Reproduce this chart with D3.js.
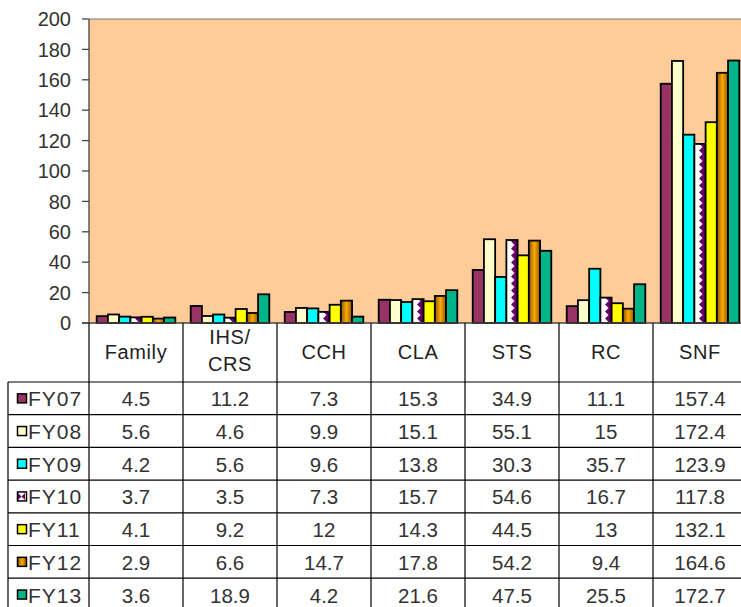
<!DOCTYPE html>
<html><head><meta charset="utf-8">
<script src="https://cdnjs.cloudflare.com/ajax/libs/d3/7.8.5/d3.min.js"></script>
<style>
html,body{margin:0;padding:0;background:#fff;}
svg text{font-family:"Liberation Sans",Arial,sans-serif;}
</style></head>
<body><svg id="c" width="741" height="607"></svg>
<script>
const categories = ["Family","IHS/CRS","CCH","CLA","STS","RC","SNF"];
const categoryLines = [["Family"],["IHS/","CRS"],["CCH"],["CLA"],["STS"],["RC"],["SNF"]];
const seriesNames = ["FY07","FY08","FY09","FY10","FY11","FY12","FY13"];
const fy07 = [4.5, 11.2, 7.3, 15.3, 34.9, 11.1, 157.4];
const fy08 = [5.6, 4.6, 9.9, 15.1, 55.1, 15, 172.4];
const fy09 = [4.2, 5.6, 9.6, 13.8, 30.3, 35.7, 123.9];
const fy10 = [3.7, 3.5, 7.3, 15.7, 54.6, 16.7, 117.8];
const fy11 = [4.1, 9.2, 12, 14.3, 44.5, 13, 132.1];
const fy12 = [2.9, 6.6, 14.7, 17.8, 54.2, 9.4, 164.6];
const fy13 = [3.6, 18.9, 4.2, 21.6, 47.5, 25.5, 172.7];
const seriesValues = [fy07, fy08, fy09, fy10, fy11, fy12, fy13];
const yTicks = [0,20,40,60,80,100,120,140,160,180,200];

const svg = d3.select("#c");
const defs = svg.append("defs");
const plotLeft = 89, plotTop = 19, plotBottom = 323, catW = 94;
const plotRight = plotLeft + catW * categories.length;

const x = d3.scaleBand().domain(categories).range([plotLeft, plotRight]).padding(0);
const xs = d3.scaleBand().domain(seriesNames).range([7.7, catW - 7.7]).padding(0);
const y = d3.scaleLinear().domain([0, 200]).range([plotBottom, plotTop]);

const g = defs.append("linearGradient").attr("id","gFY12").attr("x1","0").attr("x2","1").attr("y1","0").attr("y2","0");
g.append("stop").attr("offset","0%").attr("stop-color","#8a5800");
g.append("stop").attr("offset","50%").attr("stop-color","#ffa800");
g.append("stop").attr("offset","100%").attr("stop-color","#8a5800");

function fy10Pattern(id, x0) {
  const w = xs.bandwidth();
  const p = defs.append("pattern").attr("id", id).attr("patternUnits","userSpaceOnUse")
    .attr("x", x0).attr("y", 0).attr("width", w).attr("height", 7);
  p.append("rect").attr("width", w).attr("height", 7).attr("fill","#fff");
  p.append("polygon").attr("points", `${w*0.42},3.5 ${w*0.72},0 ${w},0 ${w},7 ${w*0.72},7`).attr("fill","#660066");
}

const colors = ["#993366","#ffffcc","#00ffff",null,"#ffff00","url(#gFY12)","#00b388"];

svg.append("rect").attr("x", plotLeft).attr("y", plotTop).attr("width", plotRight - plotLeft).attr("height", plotBottom - plotTop).attr("fill", "#ffcc99");

seriesNames.forEach((s, si) => {
  const grp = svg.append("g");
  categories.forEach((c, ci) => {
    const v = seriesValues[si][ci];
    const bx = x(c) + xs(s);
    let fill = colors[si];
    if (si === 3) { const id = "p10_" + ci; fy10Pattern(id, bx); fill = `url(#${id})`; }
    grp.append("rect").attr("x", bx).attr("y", y(v)).attr("width", xs.bandwidth()).attr("height", y(0) - y(v))
      .attr("fill", fill).attr("stroke", "#000").attr("stroke-width", 1.8);
  });
});

svg.append("line").attr("x1", plotLeft).attr("x2", plotLeft).attr("y1", plotTop).attr("y2", plotBottom).attr("stroke", "#444").attr("stroke-width", 1.3);
svg.append("line").attr("x1", plotLeft).attr("x2", plotRight).attr("y1", plotTop).attr("y2", plotTop).attr("stroke", "#777").attr("stroke-width", 1);
yTicks.forEach(t => {
  svg.append("line").attr("x1", plotLeft - 7).attr("x2", plotLeft).attr("y1", y(t)).attr("y2", y(t)).attr("stroke", "#444").attr("stroke-width", 1.3);
  svg.append("text").attr("x", 71).attr("y", y(t)).attr("dy", "0.36em").attr("text-anchor", "end")
    .attr("font-size", 20).attr("fill", "#333").text(t);
});
svg.append("line").attr("x1", plotLeft - 7).attr("x2", plotRight).attr("y1", plotBottom).attr("y2", plotBottom).attr("stroke", "#444").attr("stroke-width", 1.3);

const headerBottom = 382, rowH = 32.7, legendLeft = 8;
const rowTop = i => headerBottom + i * rowH;
const tbl = svg.append("g");
for (let i = 0; i <= seriesNames.length; i++) {
  tbl.append("line").attr("x1", legendLeft).attr("x2", plotRight).attr("y1", rowTop(i)).attr("y2", rowTop(i)).attr("stroke", "#000").attr("stroke-width", 1.2);
}
tbl.append("line").attr("x1", legendLeft).attr("x2", legendLeft).attr("y1", headerBottom).attr("y2", 607).attr("stroke", "#000").attr("stroke-width", 1.2);
categories.forEach(c => {
  tbl.append("line").attr("x1", x(c)).attr("x2", x(c)).attr("y1", plotBottom).attr("y2", 607).attr("stroke", "#000").attr("stroke-width", 1.2);
});
tbl.append("line").attr("x1", plotRight).attr("x2", plotRight).attr("y1", plotBottom).attr("y2", 607).attr("stroke", "#000");

categories.forEach((c, ci) => {
  const lines = categoryLines[ci];
  const cx = x(c) + catW / 2;
  if (lines.length === 1) {
    tbl.append("text").attr("x", cx).attr("y", 359).attr("text-anchor", "middle").attr("font-size", 20).attr("letter-spacing", 0.6).attr("fill", "#222").text(lines[0]);
  } else {
    lines.forEach((l, li) => tbl.append("text").attr("x", cx).attr("y", 344 + li * 26.5).attr("text-anchor", "middle").attr("font-size", 20).attr("letter-spacing", 0.6).attr("fill", "#222").text(l));
  }
});

seriesNames.forEach((s, si) => {
  const cy = rowTop(si) + rowH / 2;
  let fill = colors[si];
  if (si === 3) { const id = "p10_leg"; const p = defs.append("pattern").attr("id", id).attr("patternUnits","userSpaceOnUse").attr("x", 17).attr("y", cy - 4.5).attr("width", 9).attr("height", 9);
    p.append("rect").attr("width", 9).attr("height", 9).attr("fill", "#fff");
    p.append("polygon").attr("points", "1,1 4.5,4.5 8,1 8,8 4.5,4.5 1,8").attr("fill", "#660066");
    fill = `url(#${id})`; }
  tbl.append("rect").attr("x", 17.5).attr("y", cy - 4.5).attr("width", 9).attr("height", 9).attr("fill", fill).attr("stroke", "#000").attr("stroke-width", 1.5);
  tbl.append("text").attr("x", 28).attr("y", cy + 8).attr("font-size", 21).attr("letter-spacing", 1).attr("fill", "#333").text(s);
  categories.forEach((c, ci) => {
    tbl.append("text").attr("x", x(c) + catW / 2).attr("y", cy + 8).attr("text-anchor", "middle").attr("font-size", 20.5).attr("fill", "#333").text(seriesValues[si][ci]);
  });
});
</script>
</body></html>
